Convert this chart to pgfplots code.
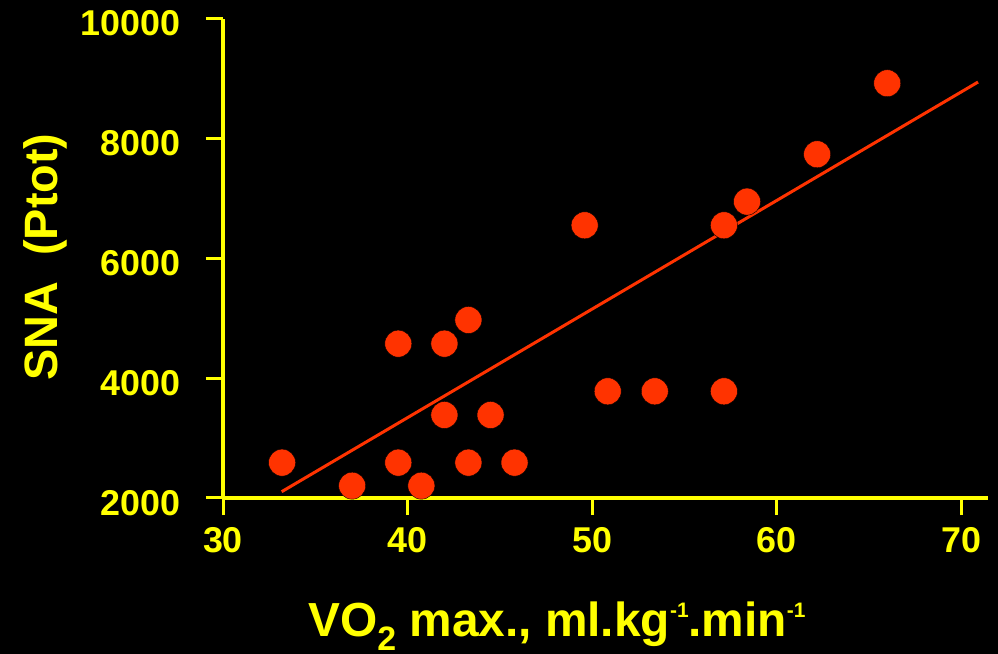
\documentclass[border=0pt]{standalone}
\usepackage{fontspec}
\setmainfont{Liberation Sans}
\usepackage{pgfplots}
\pgfplotsset{compat=1.18}
\definecolor{hiyel}{RGB}{255,255,0}
\definecolor{dotred}{RGB}{255,51,0}

\begin{document}
\begin{tikzpicture}
\useasboundingbox (0,0) rectangle (998bp,654bp);
\fill[black] (0,0) rectangle (998bp,654bp);
\begin{axis}[
  at={(223bp,156bp)}, anchor=south west,
  scale only axis, width=765bp, height=479.5bp,
  xmin=30, xmax=71.46, ymin=2000, ymax=10000,
  axis x line=bottom, axis y line=left,
  axis line style={hiyel, line width=4bp, -},
  xtick={30,40,50,60,70}, ytick={2000,4000,6000,8000,10000},
  minor tick num=0,
  tick align=outside, major tick length=17bp,
  tick style={hiyel, line width=3bp},
  ticklabel style={text=hiyel, font=\fontsize{36}{36}\selectfont\bfseries},
  yticklabel style={xshift=-22bp, yshift=-5bp},
  xticklabel style={yshift=-8.5bp},
  /pgf/number format/assume math mode=true,
  /pgf/number format/1000 sep={},
  scaled y ticks=false,
  clip=false,
]
% subjects
\addplot[only marks, mark=*, mark size=13.5bp, mark options={fill=dotred, draw=none}] coordinates {
  (33.2,2590) (37.0,2205) (39.5,4575) (42.0,4575) (43.3,4970)
  (42.0,3385) (44.5,3385) (39.5,2590) (40.75,2205) (43.3,2590)
  (45.8,2590) (49.6,6550) (57.15,6550) (58.4,6945) (50.85,3780)
  (53.4,3780) (57.15,3780) (62.2,7735) (66.0,8920)
};
% regression line
\addplot[dotred, line width=3bp, no marks] coordinates {(33.18,2105) (70.92,8940)};
\end{axis}
\node[text=hiyel, anchor=base, font=\fontsize{48}{48}\selectfont\bfseries] at (557bp,17.3bp)
  {VO\raisebox{-14bp}{\fontsize{34}{34}\selectfont 2} max., ml.kg\raisebox{19bp}{\fontsize{21}{21}\selectfont -1}.min\raisebox{19bp}{\fontsize{21}{21}\selectfont -1}};
\node[text=hiyel, rotate=90, anchor=base, font=\fontsize{47}{47}\selectfont\bfseries] at (57bp,397bp)
  {SNA\ \ (Ptot)};
\end{tikzpicture}
\end{document}
